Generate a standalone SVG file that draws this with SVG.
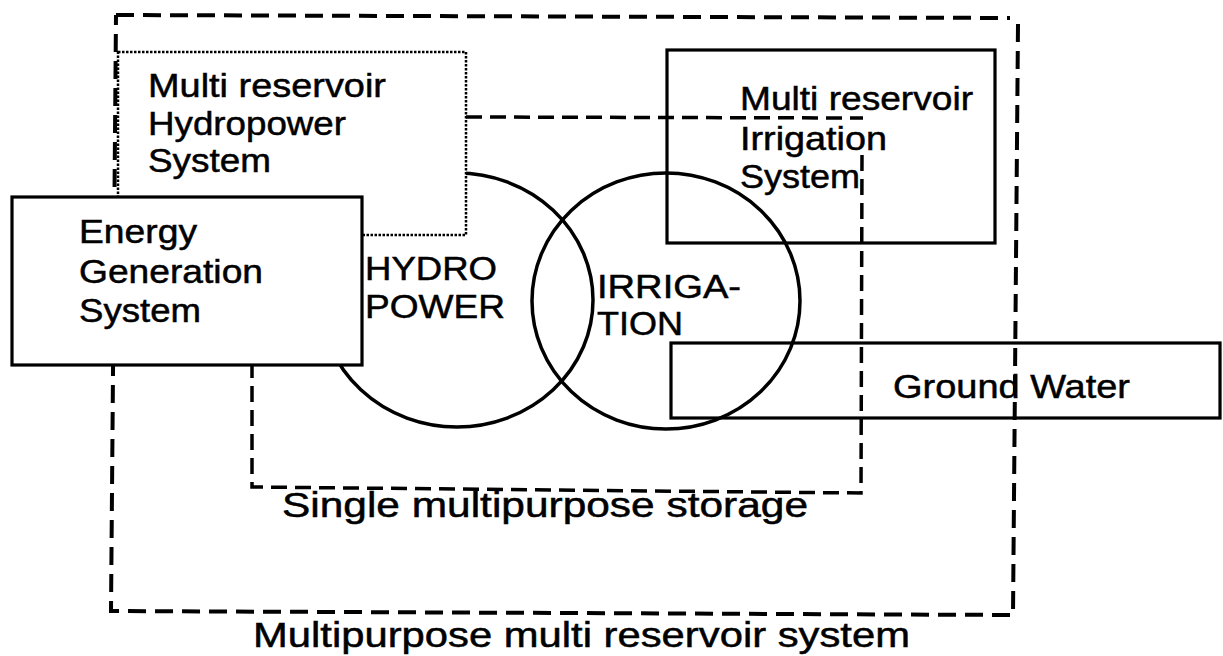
<svg xmlns="http://www.w3.org/2000/svg" width="1223" height="656" viewBox="0 0 1223 656">
<style>
  .bg { fill: #ffffff; }
  .outer { fill: none; stroke: #000; stroke-width: 4; stroke-dasharray: 18 9; }
  .inner { fill: none; stroke: #000; stroke-width: 3.5; stroke-dasharray: 16 8; }
  .dotted { fill: #fff; stroke: #000; stroke-width: 2.5; stroke-dasharray: 2.5 1.5; }
  .solidw { fill: #fff; stroke: #000; stroke-width: 3.2; }
  .solid { fill: none; stroke: #000; stroke-width: 3.2; }
  .circ { fill: none; stroke: #000; stroke-width: 3.5; }
  text { font-family: "Liberation Sans", Arial, sans-serif; fill: #000; stroke: #000; stroke-width: 0.5; }
  .t { font-size: 33px; }
  .tb { font-size: 35px; }
</style>
<rect class="bg" x="0" y="0" width="1223" height="656"/>

<g id="connectors">
  <g id="multipurpose-multi-reservoir-system">
    <path class="outer" d="M116,15 L1010,18 M1018,24 L1013,615 L111,611 L116,15"/>
  </g>
  <g id="single-multipurpose-storage">
    <path class="inner" d="M466,117 L863,118 M862,155 L861,493 L252,487 L252,365"/>
  </g>
</g>

<g id="hydropower">
  <ellipse class="circ" cx="457" cy="300" rx="136" ry="127"/>
  <text class="t" x="365" y="280" textLength="132" lengthAdjust="spacingAndGlyphs">HYDRO</text>
  <text class="t" x="365" y="318" textLength="140" lengthAdjust="spacingAndGlyphs">POWER</text>
</g>

<g id="irrigation">
  <ellipse class="circ" cx="666" cy="301" rx="134" ry="128"/>
  <text class="t" x="597" y="298" textLength="144" lengthAdjust="spacingAndGlyphs">IRRIGA-</text>
  <text class="t" x="597" y="335" textLength="86" lengthAdjust="spacingAndGlyphs">TION</text>
</g>

<g id="multi-reservoir-hydropower-system">
  <rect class="dotted" x="118" y="52" width="348" height="183"/>
  <text class="t" x="148" y="97" textLength="238" lengthAdjust="spacingAndGlyphs">Multi reservoir</text>
  <text class="t" x="148" y="135" textLength="198" lengthAdjust="spacingAndGlyphs">Hydropower</text>
  <text class="t" x="148" y="172" textLength="123" lengthAdjust="spacingAndGlyphs">System</text>
</g>

<g id="energy-generation-system">
  <rect class="solidw" x="12" y="197" width="350" height="168"/>
  <text class="t" x="79" y="243" textLength="118" lengthAdjust="spacingAndGlyphs">Energy</text>
  <text class="t" x="79" y="283" textLength="184" lengthAdjust="spacingAndGlyphs">Generation</text>
  <text class="t" x="79" y="322" textLength="122" lengthAdjust="spacingAndGlyphs">System</text>
</g>

<g id="multi-reservoir-irrigation-system">
  <rect class="solid" x="667" y="50" width="328" height="193"/>
  <text class="t" x="740" y="110" textLength="233" lengthAdjust="spacingAndGlyphs">Multi reservoir</text>
  <text class="t" x="740" y="150" textLength="147" lengthAdjust="spacingAndGlyphs">Irrigation</text>
  <text class="t" x="740" y="188" textLength="120" lengthAdjust="spacingAndGlyphs">System</text>
</g>

<g id="ground-water">
  <rect class="solid" x="671" y="343" width="549" height="75"/>
  <text class="t" x="893" y="398" textLength="237" lengthAdjust="spacingAndGlyphs">Ground Water</text>
</g>

<g id="labels">
  <text class="tb" x="282" y="517" textLength="526" lengthAdjust="spacingAndGlyphs">Single multipurpose storage</text>
  <text class="tb" x="253" y="647" textLength="657" lengthAdjust="spacingAndGlyphs">Multipurpose multi reservoir system</text>
</g>
</svg>
